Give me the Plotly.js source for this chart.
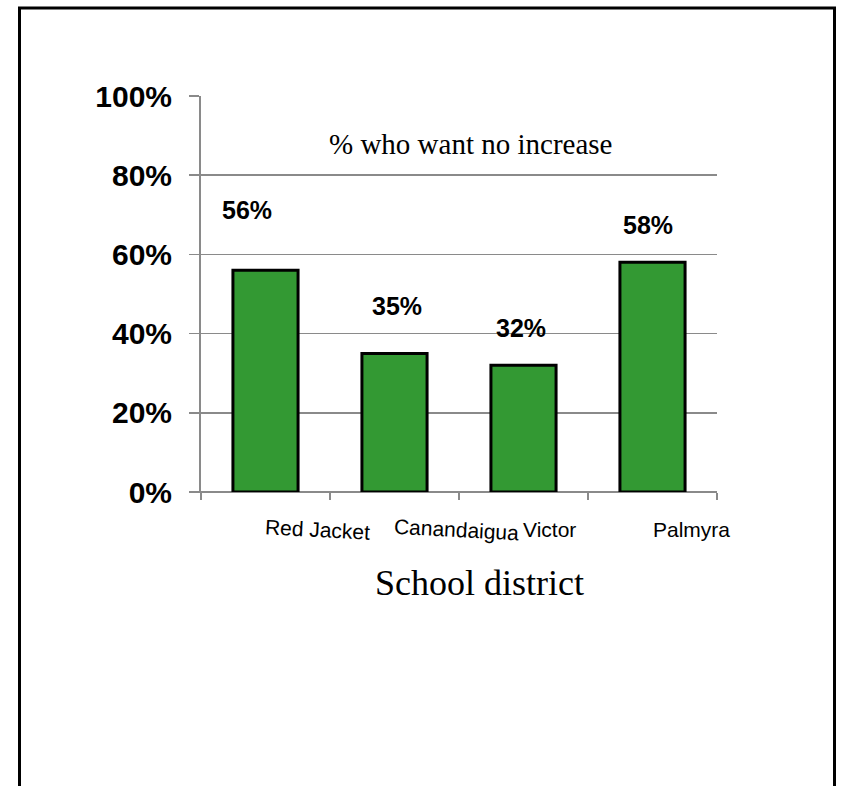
<!DOCTYPE html>
<html>
<head>
<meta charset="utf-8">
<script src="https://cdn.plot.ly/plotly-3.0.1.min.js"></script>
<style>html,body{margin:0;padding:0;background:#fff;}</style>
</head>
<body>
<div id="chart" style="width:844px;height:786px;"></div>
<script>
// Data
const districts = ["Red Jacket", "Canandaigua", "Victor", "Palmyra"];
const pctNoIncrease = [56, 35, 32, 58];
const valueLabels = ["56%", "35%", "32%", "58%"];
const yTickVals = [0, 20, 40, 60, 80, 100];
const yTickText = ["0%", "20%", "40%", "60%", "80%", "100%"];

// Layout-only placement tweaks (pixels)
const valueLabelShift = [[-19, 60], [2, 47], [-3, 37], [-5, 37]];
const catLabelShift = [-3, -3, -3, -2];
const catLabelAngle = [3, 3, 0, 0];

const W = 844, H = 786;
const L = 201, R = 717, T = 96, B = 492;
const px = x => (x - L) / (R - L);
const py = y => (B - y) / (B - T);

const annotations = [];
districts.forEach((d, i) => {
  annotations.push({
    x: d, y: pctNoIncrease[i], xref: 'x', yref: 'y',
    text: valueLabels[i], showarrow: false,
    xanchor: 'center', yanchor: 'middle',
    xshift: valueLabelShift[i][0], yshift: valueLabelShift[i][1],
    font: {family: 'Liberation Sans, Arial, sans-serif', size: 25, color: '#000', weight: 'bold'}
  });
  annotations.push({
    x: d, y: py(529), xref: 'x', yref: 'paper',
    text: d, showarrow: false,
    xanchor: 'left', yanchor: 'middle',
    xshift: catLabelShift[i], textangle: catLabelAngle[i],
    font: {family: 'Liberation Sans, Arial, sans-serif', size: 21, color: '#000'}
  });
});
annotations.push({
  x: px(470), y: py(144), xref: 'paper', yref: 'paper',
  text: '% who want no increase', showarrow: false,
  xanchor: 'center', yanchor: 'middle',
  font: {family: 'Liberation Serif, Times New Roman, serif', size: 29, color: '#000'}
});
annotations.push({
  x: px(479), y: py(583), xref: 'paper', yref: 'paper',
  text: 'School district', showarrow: false,
  xanchor: 'center', yanchor: 'middle',
  font: {family: 'Liberation Serif, Times New Roman, serif', size: 36, color: '#000'}
});

const trace = {
  type: 'bar',
  x: districts,
  y: pctNoIncrease,
  width: 0.505,
  marker: {color: '#339933', line: {color: '#000', width: 3}},
  hoverinfo: 'none'
};

const layout = {
  width: W, height: H,
  margin: {l: L, r: W - R, t: T, b: H - B, pad: 0},
  paper_bgcolor: '#fff', plot_bgcolor: '#fff',
  showlegend: false,
  bargap: 0.5,
  xaxis: {
    type: 'category',
    range: [-0.5, 3.5],
    showticklabels: false,
    ticks: 'outside', tickson: 'boundaries', ticklen: 7, tickwidth: 1.5, tickcolor: '#8a8a8a',
    showgrid: false, zeroline: false,
    showline: false
  },
  yaxis: {
    range: [0, 100],
    tickvals: yTickVals, ticktext: yTickText,
    ticks: 'outside', ticklen: 10, tickwidth: 1.5, tickcolor: '#8a8a8a',
    ticklabelstandoff: 11,
    showgrid: true, gridcolor: '#8a8a8a', gridwidth: 1.5,
    zeroline: false,
    showline: true, linecolor: '#8a8a8a', linewidth: 2,
    tickfont: {family: 'Liberation Sans, Arial, sans-serif', size: 30, color: '#000', weight: 'bold'}
  },
  shapes: [
    {type: 'line', xref: 'paper', yref: 'paper', x0: px(191), x1: px(717), y0: 0, y1: 0,
     line: {color: '#8a8a8a', width: 2}, layer: 'below'},
    {type: 'rect', xref: 'paper', yref: 'paper', x0: px(19.5), x1: px(834.5), y0: py(8), y1: py(800),
     line: {color: '#000', width: 3}, fillcolor: 'rgba(0,0,0,0)'}
  ],
  annotations: annotations
};

Plotly.newPlot('chart', [trace], layout, {staticPlot: true, displayModeBar: false});
</script>
</body>
</html>
